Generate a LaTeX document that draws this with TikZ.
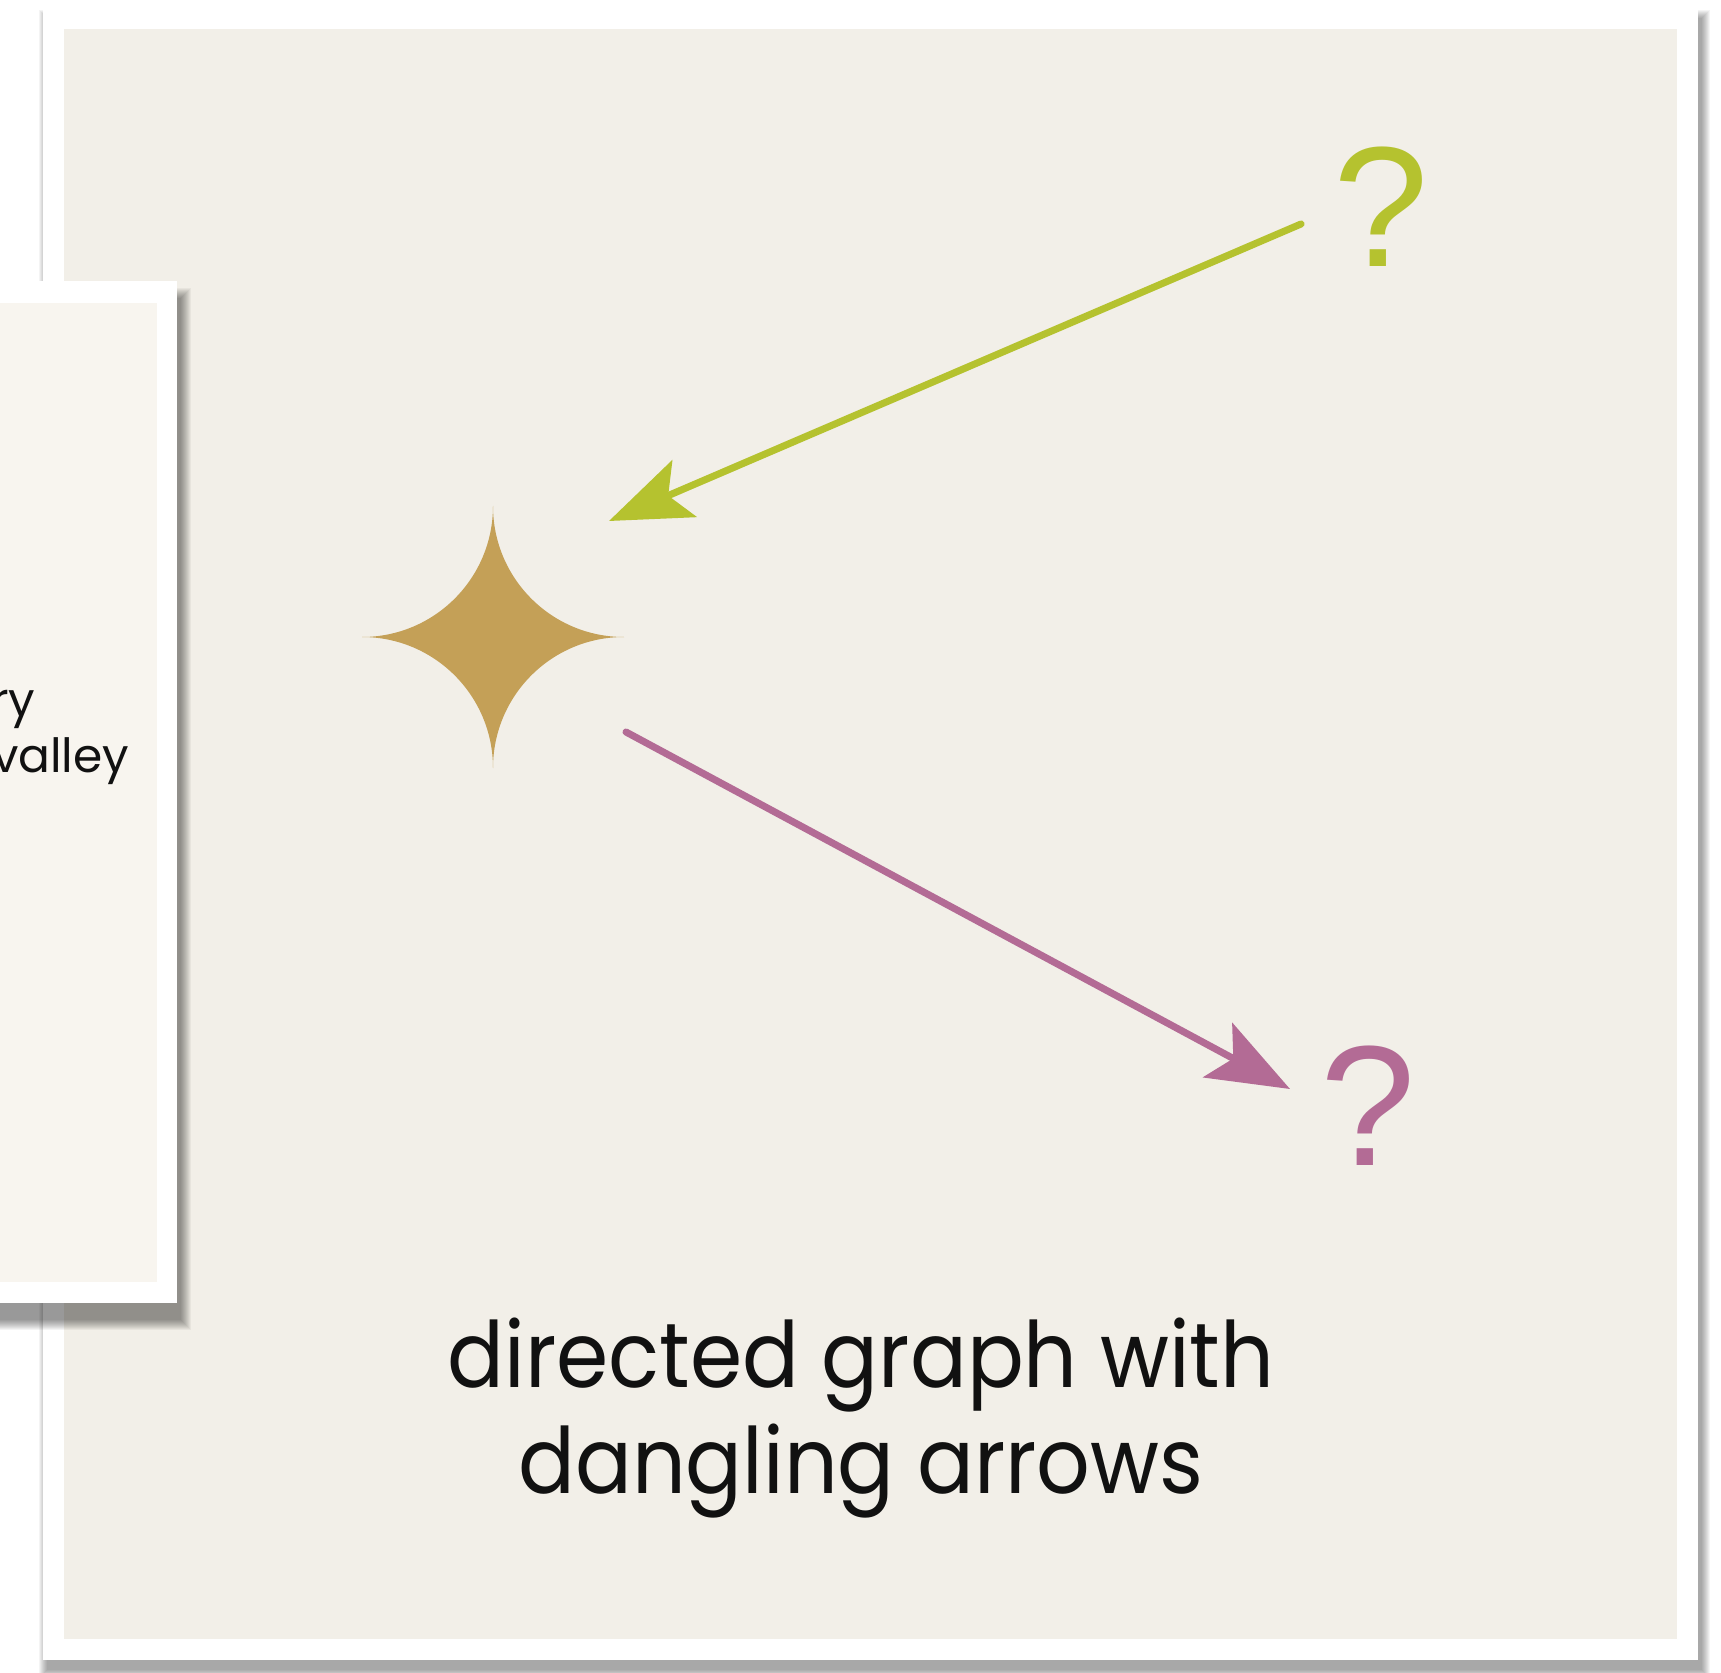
\documentclass[tikz,border=0pt]{standalone}
\usepackage{fontspec}
\setmainfont{Poppins}
\newfontfamily\qfont{Liberation Sans}
\newfontfamily\capfont[FakeStretch=0.92]{Poppins}
\usetikzlibrary{arrows.meta}
\definecolor{beige}{HTML}{F2EFE8}
\definecolor{paper}{HTML}{F8F5EF}
\definecolor{gold}{HTML}{C4A057}
\definecolor{lime}{HTML}{B5C22F}
\definecolor{mauve}{HTML}{B36B95}
\definecolor{ink}{HTML}{111111}
\begin{document}
\begin{tikzpicture}[x=0.01cm,y=-0.01cm,
  qmark/.style={font=\qfont\fontsize{48.7}{50}\selectfont, inner sep=0pt, anchor=base},
  link/.style={line width=2.0pt, line cap=round, -{Stealth[length=23.3pt,width=17.5pt,inset=5pt]}},
  ]
\useasboundingbox (0,0) rectangle (1721,1673);
\fill[white] (0,0) rectangle (1721,1673);
% outer card with shadow
\foreach \i in {0,...,8}{
  \fill[black,opacity=0.045] (47-\i,18-\i) rectangle (1702+\i,1670+\i);
}
\fill[white] (43,8) rectangle (1698,1660);
\fill[beige] (64,29) rectangle (1677,1639);
% left card with shadow
\foreach \i in {0,...,10}{
  \fill[black,opacity=0.045] (-20,298-\i) rectangle (181+\i,1320+\i);
}
\fill[white] (-10,281) rectangle (177,1303);
\fill[paper] (-10,303) rectangle (157,1282);
\node[font=\fontsize{13.4}{16}\selectfont, text=ink, inner sep=0pt, anchor=base east] (ry) at (36,716) {ry};
\node[font=\fontsize{13.4}{16}\selectfont, text=ink, inner sep=0pt, anchor=base east] (valley) at (130,772) {valley};
% star
\coordinate (star) at (493,637);
\fill[gold] (493,506) .. controls (493,578.4) and (551.6,637) .. (624,637)
  .. controls (551.6,637) and (493,695.6) .. (493,768)
  .. controls (493,695.6) and (434.4,637) .. (362,637)
  .. controls (434.4,637) and (493,578.4) .. cycle;
% question marks
\node[qmark, text=lime] (q1) at (1381,267) {?};
\node[qmark, text=mauve] (q2) at (1368,1165) {?};
% arrows
\coordinate (gs) at (1301,224);
\coordinate (ge) at (609,521);
\coordinate (ps) at (626,732);
\coordinate (pe) at (1290,1089);
\draw[link, lime] (gs) -- (ge);
\draw[link, mauve] (ps) -- (pe);
% caption
\node[font=\capfont\fontsize{26}{29.9}\selectfont, text=ink, align=center, anchor=base, inner sep=0pt] (cap) at (861,1493) {directed graph with\\dangling arrows};
\end{tikzpicture}
\end{document}
